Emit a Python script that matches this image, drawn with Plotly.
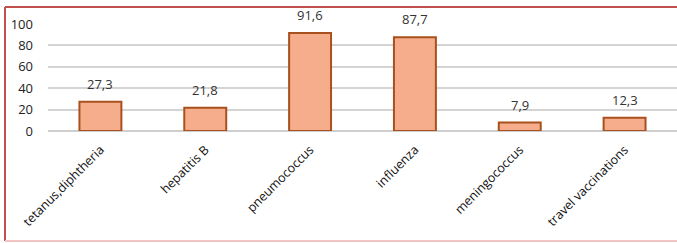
import plotly.graph_objects as go

categories = ["tetanus,diphtheria", "hepatitis B", "pneumococcus", "influenza", "meningococcus", "travel vaccinations"]
values = [27.3, 21.8, 91.6, 87.7, 7.9, 12.3]
y_ticks = [0, 20, 40, 60, 80, 100]

W, H = 677, 243
L, R, T, B = 48, 0, 24, 112
pw, ph = W - L - R, H - T - B

def px_x(p):
    return (p - L) / pw

def px_y(p):
    return (H - B - p) / ph

FONT = "Open Sans, Liberation Sans"

fig = go.Figure(go.Bar(
    x=categories, y=values,
    marker=dict(color="#f5ad8c", line=dict(color="#a8501e", width=2)),
    width=0.4,
    cliponaxis=False,
))

for c, v in zip(categories, values):
    fig.add_annotation(
        x=c, y=v, text=f"{v:.1f}".replace(".", ","),
        showarrow=False, yanchor="bottom", yshift=7,
        font=dict(family=FONT, size=13, color="#333333"),
    )

fig.update_layout(
    width=W, height=H,
    margin=dict(l=L, r=R, t=T, b=B, autoexpand=False),
    plot_bgcolor="white", paper_bgcolor="white",
    showlegend=False,
    xaxis=dict(
        automargin=False,
        tickangle=-45,
        tickfont=dict(family=FONT, size=12.5, color="#111111"),
        showgrid=False, showline=False, ticks="",
        ticklabelstandoff=8,
    ),
    yaxis=dict(
        automargin=False,
        range=[0, 100],
        tickvals=y_ticks,
        tickfont=dict(family=FONT, size=13, color="#222222"),
        showgrid=True, gridcolor="#d4d4d4", gridwidth=2,
        zeroline=True, zerolinecolor="#cfcfcf", zerolinewidth=2,
        ticklabelstandoff=14,
    ),
    shapes=[
        dict(type="line", xref="paper", yref="paper", x0=px_x(5), x1=px_x(677), y0=px_y(7), y1=px_y(7),
             line=dict(color="#c0504d", width=2)),
        dict(type="line", xref="paper", yref="paper", x0=px_x(5), x1=px_x(5), y0=px_y(7), y1=px_y(241),
             line=dict(color="#c0504d", width=2)),
        dict(type="line", xref="paper", yref="paper", x0=px_x(5), x1=px_x(677), y0=px_y(241), y1=px_y(241),
             line=dict(color="#f2c4c4", width=2)),
    ],
)

fig.write_html("out.html", config={"displayModeBar": False},
               post_script="document.body.style.margin='0';document.body.style.overflow='hidden';")
